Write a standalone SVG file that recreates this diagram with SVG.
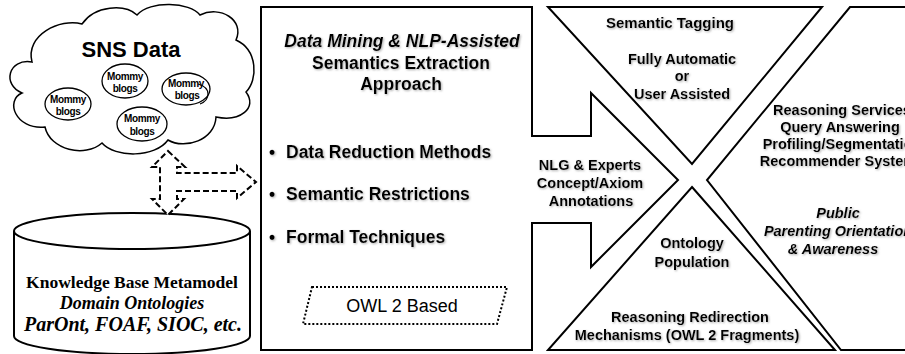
<svg xmlns="http://www.w3.org/2000/svg" width="905" height="354" viewBox="0 0 905 354">
<defs>
<filter id="sh" x="-10%" y="-30%" width="120%" height="160%">
<feDropShadow dx="1" dy="1" stdDeviation="0.8" flood-color="#777" flood-opacity="0.6"/>
</filter>
</defs>
<style>
.ln{fill:#fff;stroke:#000;stroke-width:2;stroke-linejoin:miter}
.t{font-family:"Liberation Sans",Arial,sans-serif;font-weight:bold;fill:#000;text-anchor:middle}
.s{filter:url(#sh)}
.m{font-size:17.5px}
.r{font-size:14.5px}
.b{font-size:10px;letter-spacing:-0.4px}
.i{font-style:italic}
.serif{font-family:"Liberation Serif","Times New Roman",serif;font-weight:bold;text-anchor:middle;fill:#000}
</style>
<rect width="905" height="354" fill="#fff"/>

<g id="sns-cloud">
<path class="ln" d="M32,62 C25,35 60,18 82,24 C95,5 125,4 137,15 C150,0 190,2 200,15 C220,5 245,20 236,40 C258,50 258,80 246,92 C258,108 240,122 216,117 C215,140 185,150 168,140 C155,158 115,158 102,143 C85,158 50,150 45,127 C15,130 5,100 22,93 C2,85 8,58 32,62 Z" style="stroke-width:1.5"/>
<text class="t" x="131" y="57" style="font-size:22px">SNS Data</text>
<g id="blog1"><ellipse cx="68" cy="104" rx="23" ry="16" fill="#fff" stroke="#000" stroke-width="1.3"/><text class="t b" x="68" y="103">Mommy</text><text class="t b" x="68" y="115">blogs</text></g>
<g id="blog2"><ellipse cx="125" cy="81" rx="23" ry="17" fill="#fff" stroke="#000" stroke-width="1.3"/><text class="t b" x="125" y="80">Mommy</text><text class="t b" x="125" y="92">blogs</text></g>
<g id="blog3"><ellipse cx="186" cy="89" rx="24" ry="16" fill="#fff" stroke="#000" stroke-width="1.3"/><text class="t b" x="186" y="87">Mommy</text><text class="t b" x="187" y="99">blogs</text>
<path d="M198,84 C212,88 210,100 200,104" fill="none" stroke="#000" stroke-width="1.2"/></g>
<g id="blog4"><ellipse cx="142" cy="124" rx="25" ry="17" fill="#fff" stroke="#000" stroke-width="1.3"/><text class="t b" x="142" y="122">Mommy</text><text class="t b" x="142" y="135">blogs</text></g>
</g>

<g id="knowledge-base">
<path class="ln" d="M14,231 V336 A118,18 0 0 0 250,336 V231"/>
<ellipse class="ln" cx="132" cy="231" rx="118" ry="18"/>
<text class="serif" x="132" y="288" style="font-size:17.5px">Knowledge Base Metamodel</text>
<text class="serif" x="132" y="309" style="font-size:18px;font-style:italic">Domain Ontologies</text>
<text class="serif" x="133" y="331" style="font-size:20px;font-style:italic">ParOnt, FOAF, SIOC, etc.</text>
</g>

<g id="connectors">
<path d="M168,151 L185,167 L177,167 L177,173 L237,173 L237,166 L256,182 L237,198 L237,191 L177,191 L177,199 L184,199 L168,215 L152,199 L160,199 L160,167 L152,167 Z" fill="#fff" stroke="#000" stroke-width="2" stroke-dasharray="6,3"/>
</g>

<g id="extraction-approach">
<path class="ln" d="M261,7 H532 V136 H591 V93 L678,180 L591,267 V223 H532 V350 H261 Z"/>
<g class="s">
<text class="t m i" x="402" y="47">Data Mining  &amp; NLP-Assisted</text>
<text class="t m" x="401" y="69">Semantics Extraction</text>
<text class="t m" x="401" y="90">Approach</text>
<text class="t m" x="272" y="158">•</text><text class="t m" x="286" y="158" style="text-anchor:start">Data Reduction Methods</text>
<text class="t m" x="272" y="200">•</text><text class="t m" x="286" y="200" style="text-anchor:start">Semantic Restrictions</text>
<text class="t m" x="272" y="243">•</text><text class="t m" x="286" y="243" style="text-anchor:start">Formal Techniques</text>
</g>
<g id="owl2-based">
<path d="M312,287 H507 L497,324 H303 Z" fill="none" stroke="#000" stroke-width="2" stroke-dasharray="2,2"/>
<text class="t" x="402" y="312" style="font-size:18px;font-weight:normal">OWL 2 Based</text>
</g>
<g class="s">
<text class="t r" x="590" y="170">NLG &amp; Experts</text>
<text class="t r" x="590" y="188">Concept/Axiom</text>
<text class="t r" x="591" y="206">Annotations</text>
</g>
</g>

<g id="semantic-tagging">
<path class="ln" d="M548,7 H822 L692,164 Z"/>
<g class="s">
<text class="t" x="670" y="28" style="font-size:15px">Semantic Tagging</text>
<text class="t r" x="682" y="64">Fully Automatic</text>
<text class="t r" x="682" y="81">or</text>
<text class="t r" x="682" y="99">User Assisted</text>
</g>
</g>

<g id="ontology-population">
<path class="ln" d="M692,187 L835,350 H548 Z"/>
<g class="s">
<text class="t r" x="692" y="248">Ontology</text>
<text class="t r" x="692" y="267">Population</text>
<text class="t r" x="690" y="322">Reasoning Redirection</text>
<text class="t r" x="687" y="340">Mechanisms (OWL 2 Fragments)</text>
</g>
</g>

<g id="reasoning-services">
<path class="ln" d="M906,7 H850 L707,180 L841,350 H906"/>
<g class="s">
<text class="t r" x="842" y="115">Reasoning Services</text>
<text class="t r" x="840" y="132">Query Answering</text>
<text class="t r" x="842" y="149">Profiling/Segmentation</text>
<text class="t r" x="842" y="166">Recommender Systems</text>
<text class="t r i" x="838" y="218">Public</text>
<text class="t r i" x="838" y="236">Parenting Orientation</text>
<text class="t r i" x="833" y="254">&amp;  Awareness</text>
</g>
</g>
</svg>
